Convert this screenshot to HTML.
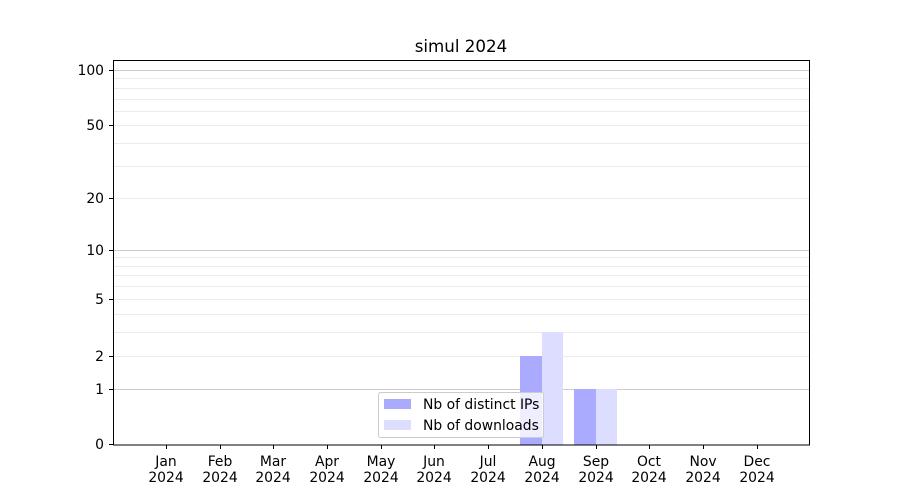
<!DOCTYPE html>
<html><head><meta charset="utf-8"><style>body{margin:0;background:#fff}svg{display:block}text{font-family:"DejaVu Sans","Liberation Sans",sans-serif;font-size:13.9px;fill:#000}</style></head><body>
<svg width="900" height="500" viewBox="0 0 900 500" xmlns="http://www.w3.org/2000/svg">
<rect width="900" height="500" fill="#fff"/>
<g stroke="#ebebeb" stroke-width="1">
<line x1="113" x2="810" y1="78.5" y2="78.5"/><line x1="113" x2="810" y1="88.5" y2="88.5"/><line x1="113" x2="810" y1="99.5" y2="99.5"/><line x1="113" x2="810" y1="111.5" y2="111.5"/><line x1="113" x2="810" y1="125.5" y2="125.5"/><line x1="113" x2="810" y1="143.5" y2="143.5"/><line x1="113" x2="810" y1="166.5" y2="166.5"/><line x1="113" x2="810" y1="198.5" y2="198.5"/>
<line x1="113" x2="810" y1="257.5" y2="257.5"/><line x1="113" x2="810" y1="266.5" y2="266.5"/><line x1="113" x2="810" y1="275.5" y2="275.5"/><line x1="113" x2="810" y1="286.5" y2="286.5"/><line x1="113" x2="810" y1="299.5" y2="299.5"/><line x1="113" x2="810" y1="314.5" y2="314.5"/><line x1="113" x2="810" y1="332.5" y2="332.5"/><line x1="113" x2="810" y1="356.5" y2="356.5"/>
</g>
<g stroke="#cccccc" stroke-width="1">
<line x1="113" x2="810" y1="70.5" y2="70.5"/><line x1="113" x2="810" y1="250.5" y2="250.5"/><line x1="113" x2="810" y1="389.5" y2="389.5"/>
</g>
<rect x="520" y="356" width="22" height="89" fill="#aaaaff"/>
<rect x="542" y="332" width="21" height="113" fill="#ddddff"/>
<rect x="574" y="389" width="22" height="56" fill="#aaaaff"/>
<rect x="596" y="389" width="21" height="56" fill="#ddddff"/>
<rect x="113.5" y="60.5" width="696" height="384.5" fill="none" stroke="#000" stroke-width="1"/>
<g stroke="#000">
<line x1="109" x2="113" y1="70.5" y2="70.5"/><line x1="109" x2="113" y1="125.5" y2="125.5"/><line x1="109" x2="113" y1="198.5" y2="198.5"/><line x1="109" x2="113" y1="250.5" y2="250.5"/><line x1="109" x2="113" y1="299.5" y2="299.5"/><line x1="109" x2="113" y1="356.5" y2="356.5"/><line x1="109" x2="113" y1="389.5" y2="389.5"/><line x1="109" x2="113" y1="444.5" y2="444.5"/>
</g>
<g text-anchor="end">
<text x="104" y="75">100</text><text x="104" y="130">50</text><text x="104" y="203">20</text><text x="104" y="255">10</text><text x="104" y="304">5</text><text x="104" y="361">2</text><text x="104" y="394">1</text><text x="104" y="449">0</text>
</g>
<text x="461" y="52" text-anchor="middle" style="font-size:16.7px">simul 2024</text>
<g stroke="#000">
<line x1="166.5" x2="166.5" y1="445" y2="449"/><line x1="220.5" x2="220.5" y1="445" y2="449"/><line x1="273.5" x2="273.5" y1="445" y2="449"/><line x1="327.5" x2="327.5" y1="445" y2="449"/><line x1="381.5" x2="381.5" y1="445" y2="449"/><line x1="434.5" x2="434.5" y1="445" y2="449"/><line x1="488.5" x2="488.5" y1="445" y2="449"/><line x1="542.5" x2="542.5" y1="445" y2="449"/><line x1="596.5" x2="596.5" y1="445" y2="449"/><line x1="649.5" x2="649.5" y1="445" y2="449"/><line x1="703.5" x2="703.5" y1="445" y2="449"/><line x1="757.5" x2="757.5" y1="445" y2="449"/>
</g>
<g text-anchor="middle">
<text x="166" y="466">Jan</text><text x="166" y="482">2024</text>
<text x="220" y="466">Feb</text><text x="220" y="482">2024</text>
<text x="273" y="466">Mar</text><text x="273" y="482">2024</text>
<text x="327" y="466">Apr</text><text x="327" y="482">2024</text>
<text x="381" y="466">May</text><text x="381" y="482">2024</text>
<text x="434" y="466">Jun</text><text x="434" y="482">2024</text>
<text x="488" y="466">Jul</text><text x="488" y="482">2024</text>
<text x="542" y="466">Aug</text><text x="542" y="482">2024</text>
<text x="596" y="466">Sep</text><text x="596" y="482">2024</text>
<text x="649" y="466">Oct</text><text x="649" y="482">2024</text>
<text x="703" y="466">Nov</text><text x="703" y="482">2024</text>
<text x="757" y="466">Dec</text><text x="757" y="482">2024</text>
</g>
<rect x="378.5" y="392.5" width="165" height="45" rx="2" fill="#fff" fill-opacity="0.8" stroke="#cccccc"/>
<rect x="384" y="399" width="27" height="10" fill="#aaaaff"/>
<rect x="384" y="420" width="27" height="10" fill="#ddddff"/>
<text x="423" y="409">Nb of distinct IPs</text>
<text x="423" y="430">Nb of downloads</text>
</svg>
</body></html>
